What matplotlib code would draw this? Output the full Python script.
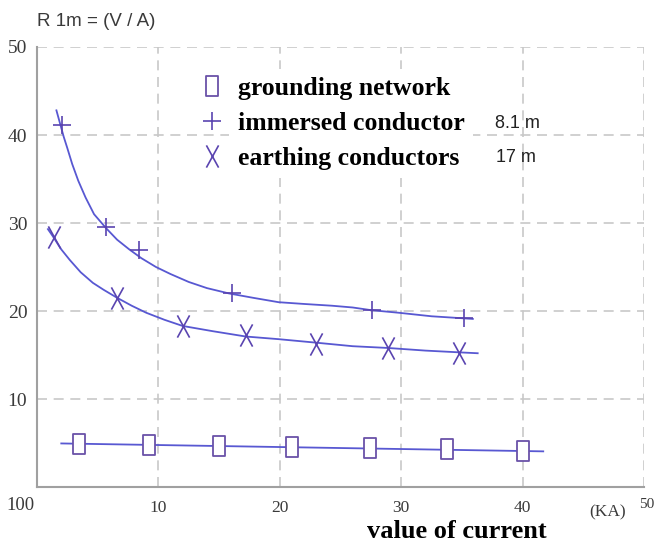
import numpy as np
import matplotlib
matplotlib.use('Agg')
import matplotlib.pyplot as plt
from matplotlib.path import Path

# grounding network (squares) and its fitted line
gnd_x = [3.5, 9.2, 15.0, 21.0, 27.4, 33.8, 40.0]
gnd_y = [4.9, 4.8, 4.7, 4.5, 4.4, 4.3, 4.1]
gnd_line_x = [2.0, 41.7]
gnd_line_y = [4.95, 4.05]

# immersed conductor (+) and its fitted curve
imm_x = [2.05, 5.7, 8.4, 16.1, 27.6, 35.2]
imm_y = [41.1, 29.5, 26.9, 22.0, 20.1, 19.2]
imm_curve_x = [1.6, 1.8, 2.0, 2.2, 2.5, 2.9, 3.4, 4.0, 4.7, 5.7, 6.6, 7.6, 8.6, 9.8, 11.0,
               12.5, 14.0, 15.8, 17.8, 19.9, 22.0, 24.3, 26.0, 27.5, 29.8, 32.5, 35.9]
imm_curve_y = [42.8, 41.8, 40.8, 39.8, 38.5, 36.7, 34.8, 32.9, 31.0, 29.4, 28.1, 27.0, 26.0, 25.0, 24.2,
               23.3, 22.6, 22.0, 21.5, 21.0, 20.8, 20.6, 20.4, 20.1, 19.8, 19.4, 19.1]

# earthing conductors (X) and its fitted curve
ear_x = [1.4, 6.6, 12.0, 17.2, 23.0, 28.9, 34.8]
ear_y = [28.4, 21.5, 18.3, 17.3, 16.3, 15.8, 15.2]
ear_curve_x = [0.9, 1.3, 2.0, 2.7, 3.6, 4.6, 5.5, 6.6, 7.8, 9.0, 10.5, 12.0,
               14.5, 17.2, 19.9, 23.0, 26.0, 28.9, 32.0, 34.8, 36.3]
ear_curve_y = [29.3, 28.5, 27.0, 25.8, 24.4, 23.2, 22.4, 21.5, 20.6, 19.8, 19.0, 18.3,
               17.7, 17.1, 16.8, 16.4, 16.0, 15.8, 15.5, 15.3, 15.2]

x_ticks = [10, 20, 30, 40]
y_ticks = [10, 20, 30, 40, 50]
labels = ['grounding network', 'immersed conductor', 'earthing conductors']
lengths = ['8.1 m', '17 m']

line_col = '#5858d2'
mark_col = '#5a44b0'
grid_col = '#c8c8c8'
axis_col = '#a0a0a0'
txt_col = '#3a3a3a'

rect = Path([(-0.6, -1), (0.6, -1), (0.6, 1), (-0.6, 1), (-0.6, -1)],
            [Path.MOVETO, Path.LINETO, Path.LINETO, Path.LINETO, Path.CLOSEPOLY])
xmark = Path([(-0.55, -1), (0.55, 1), (-0.55, 1), (0.55, -1)],
             [Path.MOVETO, Path.LINETO, Path.MOVETO, Path.LINETO])

fig = plt.figure(figsize=(6.54, 5.44), dpi=100)
ax = fig.add_axes([37 / 654, 57 / 544, 607 / 654, 440 / 544])
ax.set_xlim(0, 50)
ax.set_ylim(0, 50)

ax.plot(gnd_line_x, gnd_line_y, color=line_col, lw=1.3, zorder=3)
ax.plot(imm_curve_x, imm_curve_y, color=line_col, lw=1.3, zorder=3)
ax.plot(ear_curve_x, ear_curve_y, color=line_col, lw=1.3, zorder=3)

h1, = ax.plot(gnd_x, gnd_y, ls='none', marker=rect, ms=14, mfc='white',
              mec='#6a52a8', mew=1.3, zorder=4)
h2, = ax.plot(imm_x, imm_y, ls='none', marker='+', ms=13, mec=mark_col, mew=1.2, zorder=4)
h3, = ax.plot(ear_x, ear_y, ls='none', marker=xmark, ms=16, mec=mark_col, mew=1.2,
              mfc='none', zorder=4)

# grid and axes
ax.set_xticks(x_ticks + [50])
ax.set_yticks(y_ticks)
ax.grid(True, color=grid_col, ls=(0, (6, 4)), lw=1.2)
ax.set_axisbelow(True)
for s in ['top', 'right']:
    ax.spines[s].set_visible(False)
for s in ['left', 'bottom']:
    ax.spines[s].set_color(axis_col)
    ax.spines[s].set_linewidth(1.5)
ax.tick_params(length=0)
ax.set_xticklabels([str(v) for v in x_ticks] + [''], family='Liberation Serif',
                   fontsize=12.5, color=txt_col)
ax.set_yticklabels([str(v) for v in y_ticks], family='Liberation Serif',
                   fontsize=14, color=txt_col)
ax.tick_params(axis='x', pad=9)
ax.tick_params(axis='y', pad=7)

fig.text(6 / 654, 1 - 505 / 544, '100', family='Liberation Serif', fontsize=13.5,
         color=txt_col, va='center', ha='left')
fig.text(647 / 654, 1 - 504 / 544, '50', family='Liberation Serif', fontsize=11,
         color=txt_col, va='center', ha='center')
fig.text(608 / 654, 1 - 512 / 544, '(KA)', family='Liberation Serif', fontsize=12.5,
         color=txt_col, va='center', ha='center')
fig.text(457 / 654, 1 - 531 / 544, 'value of current', family='Liberation Serif',
         fontsize=19, fontweight='bold', va='center', ha='center')
fig.text(37 / 654, 1 - 21 / 544, 'R 1m = (V / A)', family='Liberation Sans',
         fontsize=13.5, color=txt_col, va='center', ha='left')

leg = ax.legend([h1, h2, h3], labels, loc='upper left',
                bbox_to_anchor=(181 / 654, 1 - 59 / 544), bbox_transform=fig.transFigure,
                prop={'family': 'Liberation Serif', 'weight': 'bold', 'size': 18.5},
                frameon=False, handlelength=1.0, handletextpad=0.5,
                labelspacing=0.47, borderpad=0.2)
leg.set_zorder(5)
for t in leg.get_texts():
    t.set_bbox(dict(facecolor='white', edgecolor='none', pad=6))

fig.text(517 / 654, 1 - 123 / 544, lengths[0], family='Liberation Sans', fontsize=13,
         color='#222222', va='center', ha='center')
fig.text(516 / 654, 1 - 157 / 544, lengths[1], family='Liberation Sans', fontsize=13,
         color='#222222', va='center', ha='center')

fig.savefig('out.png', dpi=100)
